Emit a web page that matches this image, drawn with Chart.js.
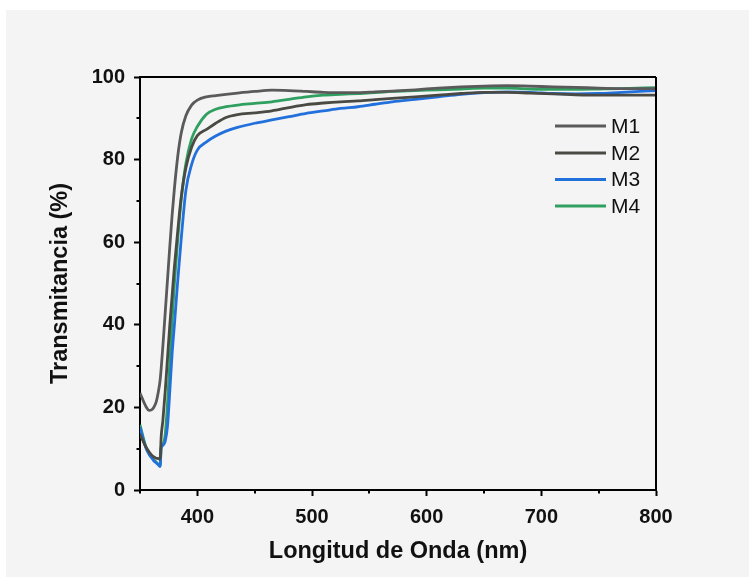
<!DOCTYPE html>
<html>
<head>
<meta charset="utf-8">
<script src="https://cdn.jsdelivr.net/npm/chart.js@4"></script>
<style>
html,body{margin:0;padding:0;background:#ffffff;}
#wrap{position:absolute;left:0;top:0;width:749px;height:580px;}
</style>
</head>
<body>
<div id="wrap"><canvas id="c" width="749" height="580"></canvas></div>
<script>
// ---- data ----
const wavelengths = [350,355,358,360,362,364,366,367.5,368.5,370,372,374,376,378,380,383,386,390,395,400,408,416,425,435,450,465,480,495,510,525,540,555,570,590,610,630,650,670,690,710,730,750,770,800];
const seriesNames = ['M1','M2','M3','M4'];
const m1 = [23.5,20.3,19.3,19.4,20.0,21.2,23.8,26.5,29.5,35,43,51,59,66.5,73,81,86.5,90.6,93.2,94.4,95.2,95.5,95.8,96.1,96.5,96.8,96.7,96.5,96.3,96.2,96.2,96.4,96.6,96.9,97.3,97.6,97.8,97.9,97.8,97.6,97.5,97.3,97.2,97.2];
const m2 = [13.5,10.5,9.2,8.5,8.0,7.7,7.6,7.5,13,17,24,32,40,47,54,63,71,78,83,85.8,87.3,88.8,90.2,90.9,91.3,91.8,92.6,93.3,93.7,94.0,94.2,94.5,94.8,95.2,95.6,96.0,96.3,96.3,96.1,95.9,95.7,95.6,95.6,95.6];
const m3 = [15.2,10.3,8.6,7.8,7.1,6.6,6.1,5.7,10.2,10.8,11.8,15.5,24,33,40,51,61,72.5,78.8,82.3,84.3,85.7,86.9,87.8,88.8,89.6,90.4,91.2,91.8,92.4,92.8,93.4,94.0,94.6,95.2,95.8,96.2,96.4,96.3,96.0,95.9,96.0,96.3,96.7];
const m4 = [15.8,10.6,8.8,8.0,7.3,6.8,6.2,5.8,10.4,11,13.5,21,31,41,50,61,70.5,79,85,88,91.0,92.2,92.8,93.2,93.6,94.0,94.6,95.2,95.6,95.8,96.0,96.2,96.5,96.7,96.9,97.1,97.3,97.3,97.1,97.0,97.0,97.1,97.2,97.4];
const xMajorTicks = [400,500,600,700,800];
const xMinorTicks = [350,450,550,650,750];
const yMajorTicks = [0,20,40,60,80,100];
const yMinorTicks = [10,30,50,70,90];
const xTitle = 'Longitud de Onda (nm)';
const yTitle = 'Transmitancia (%)';

const colors = ['#5a5a5a','#4a4a44','#2270dc','#30a061'];
const allSeries = [m1,m2,m3,m4];

const FONT = '"Liberation Sans", Arial, sans-serif';

const bgPlugin = {
  id: 'bg',
  beforeDraw(chart){
    const ctx = chart.ctx;
    ctx.save();
    ctx.fillStyle = '#ffffff';
    ctx.fillRect(0,0,chart.width,chart.height);
    ctx.fillStyle = '#f4f4f4';
    ctx.fillRect(6,10,chart.width-6,chart.height-13);
    ctx.restore();
  }
};

const framePlugin = {
  id: 'frame',
  afterDraw(chart){
    const ctx = chart.ctx;
    const a = chart.chartArea;
    const xs = chart.scales.x, ys = chart.scales.y;
    ctx.save();
    ctx.strokeStyle = '#000';
    ctx.lineWidth = 2;
    ctx.beginPath();
    ctx.moveTo(a.left, a.top); ctx.lineTo(a.right, a.top);
    ctx.moveTo(a.right, a.top); ctx.lineTo(a.right, a.bottom);
    ctx.stroke();
    // minor ticks
    ctx.beginPath();
    xMinorTicks.forEach(v => {
      const px = Math.round(xs.getPixelForValue(v));
      ctx.moveTo(px, a.bottom); ctx.lineTo(px, a.bottom + 3.5);
    });
    yMinorTicks.forEach(v => {
      const py = Math.round(ys.getPixelForValue(v));
      ctx.moveTo(a.left, py); ctx.lineTo(a.left - 3.5, py);
    });
    ctx.stroke();
    // legend
    const rows = [126,153,179.5,206];
    ctx.font = '21px ' + FONT;
    ctx.textBaseline = 'middle';
    ctx.textAlign = 'left';
    seriesNames.forEach((n,i) => {
      ctx.strokeStyle = colors[i];
      ctx.lineWidth = 3;
      ctx.beginPath();
      ctx.moveTo(555, rows[i]); ctx.lineTo(606, rows[i]);
      ctx.stroke();
      ctx.fillStyle = '#111';
      ctx.fillText(n, 611, rows[i] + 1);
    });
    ctx.restore();
  }
};

new Chart(document.getElementById('c'), {
  type: 'line',
  data: {
    datasets: allSeries.map((s,i) => ({
      label: seriesNames[i],
      data: wavelengths.map((w,j) => ({x:w, y:s[j]})),
      borderColor: colors[i],
      backgroundColor: colors[i],
      borderWidth: 2.8,
      pointRadius: 0,
      cubicInterpolationMode: 'monotone',
      fill: false
    }))
  },
  options: {
    responsive: false,
    devicePixelRatio: 1,
    animation: false,
    layout: { padding: { left: 0, top: 77, right: 93, bottom: 0 } },
    plugins: { legend: { display: false }, tooltip: { enabled: false } },
    scales: {
      x: {
        type: 'linear', min: 350, max: 800,
        afterBuildTicks: s => { s.ticks = xMajorTicks.map(v => ({value: v})); },
        afterFit: s => { s.height = 90; },
        grid: { drawOnChartArea: false, tickLength: 6, tickWidth: 2, color: '#000' },
        border: { display: true, color: '#000', width: 2 },
        ticks: { color: '#111', padding: 9, maxRotation: 0, font: { family: FONT, size: 20, weight: 'bold' } },
        title: { display: true, text: xTitle, color: '#111', padding: { top: 0, bottom: 14 }, font: { family: FONT, size: 23.5, weight: 'bold' } }
      },
      y: {
        type: 'linear', min: 0, max: 100,
        afterBuildTicks: s => { s.ticks = yMajorTicks.map(v => ({value: v})); },
        afterFit: s => { s.width = 140; },
        grid: { drawOnChartArea: false, tickLength: 6, tickWidth: 2, color: '#000' },
        border: { display: true, color: '#000', width: 2 },
        ticks: { color: '#111', padding: 9, font: { family: FONT, size: 20, weight: 'bold' } },
        title: { display: true, text: yTitle, color: '#111', padding: { top: 46, bottom: 0 }, font: { family: FONT, size: 23.5, weight: 'bold' } }
      }
    }
  },
  plugins: [bgPlugin, framePlugin]
});
</script>
</body>
</html>
